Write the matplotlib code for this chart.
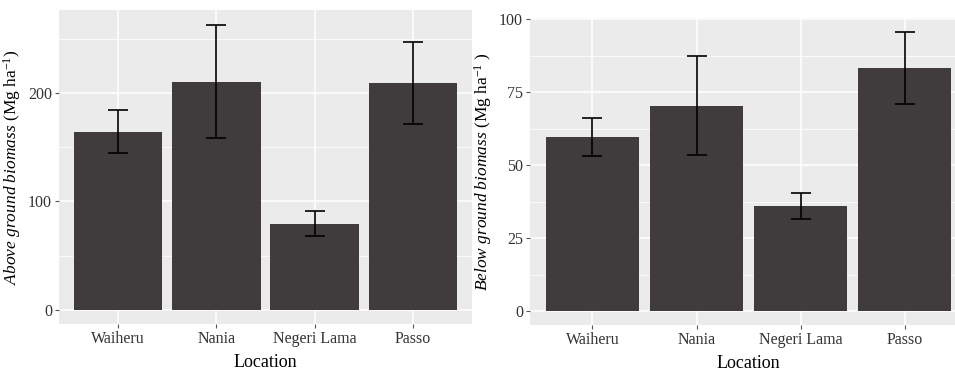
import numpy as np
import matplotlib.pyplot as plt

plt.rcParams["font.family"] = ["Liberation Serif", "DejaVu Serif"]
plt.rcParams["mathtext.fontset"] = "custom"
plt.rcParams["mathtext.rm"] = "Liberation Serif"
plt.rcParams["mathtext.it"] = "Liberation Serif:italic"

locations = ["Waiheru", "Nania", "Negeri Lama", "Passo"]

# above ground biomass (Mg ha-1)
agb_mean = [164.5, 210.5, 79.0, 209.0]
agb_low = [145.0, 158.5, 68.0, 171.0]
agb_high = [184.0, 263.0, 91.0, 247.0]

# below ground biomass (Mg ha-1)
bgb_mean = [59.5, 70.2, 36.0, 83.1]
bgb_low = [53.0, 53.3, 31.4, 71.0]
bgb_high = [66.3, 87.5, 40.5, 95.5]

bar_color = "#403C3D"
panel_bg = "#EBEBEB"


def draw_panel(ax, mean, low, high, ylim, major, minor, ylabel):
    x = np.arange(1, len(locations) + 1)
    ax.set_facecolor(panel_bg)
    for s in ax.spines.values():
        s.set_visible(False)
    ax.set_axisbelow(True)
    ax.set_yticks(major)
    ax.set_yticks(minor, minor=True)
    ax.grid(which="major", color="white", linewidth=1.1)
    ax.grid(which="minor", axis="y", color="white", linewidth=0.55)
    ax.bar(x, mean, width=0.9, color=bar_color, zorder=2)
    mean = np.array(mean)
    yerr = [mean - np.array(low), np.array(high) - mean]
    ax.errorbar(x, mean, yerr=yerr, fmt="none", ecolor="black",
                elinewidth=1.2, capsize=7.2, capthick=1.2, zorder=3)
    ax.set_xticks(x)
    ax.set_xticklabels(locations)
    ax.set_xlim(0.4, 4.6)
    ax.set_ylim(*ylim)
    ax.tick_params(axis="both", which="major", length=3, color="#555555",
                   labelsize=11.5, labelcolor="#333333", pad=2)
    ax.tick_params(axis="y", which="minor", length=0)
    ax.set_xlabel("Location", fontsize=13, labelpad=5)
    ax.set_ylabel(ylabel, fontsize=12.5, labelpad=4)


fig = plt.figure(figsize=(9.55, 3.72), dpi=100)

ax1 = fig.add_axes([0.0618, 0.129, 0.4325, 0.844])
draw_panel(ax1, agb_mean, agb_low, agb_high, (-13, 276.5),
           [0, 100, 200], [50, 150, 250],
           r"$\mathit{Above\ ground\ biomass}$ (Mg ha$^{\mathrm{-1}}$)")

ax2 = fig.add_axes([0.555, 0.1263, 0.4576, 0.8245])
draw_panel(ax2, bgb_mean, bgb_low, bgb_high, (-4.8, 100.3),
           [0, 25, 50, 75, 100], [12.5, 37.5, 62.5, 87.5],
           r"$\mathit{Below\ ground\ biomass}$ (Mg ha$^{\mathrm{-1}}$ )")

fig.savefig("out.png", dpi=100)
